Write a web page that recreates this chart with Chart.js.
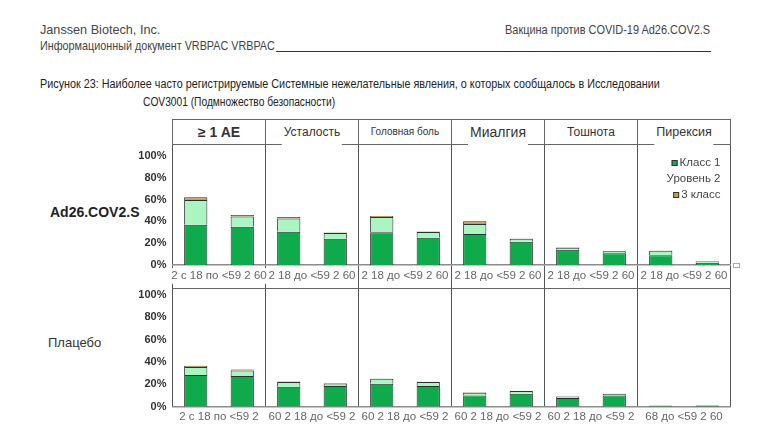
<!DOCTYPE html>
<html>
<head>
<meta charset="utf-8">
<title>Рисунок 23</title>
<script src="https://cdn.jsdelivr.net/npm/chart.js@4.4.1/dist/chart.umd.min.js"></script>
<style>
    body { margin: 0; width: 768px; height: 437px; background: #fff; position: relative; overflow: hidden;
           font-family: "Liberation Sans", Arial, sans-serif; color: #333; }
    .abs { position: absolute; white-space: nowrap; transform-origin: 0 0; }
    .abs.r { transform-origin: 100% 0; }
    .doc { font-size: 13.5px; color: #444; }
    .cap { font-size: 12.5px; color: #222; }
    #rule { position: absolute; left: 276px; top: 51px; width: 435px; height: 0; border-top: 1.5px solid #333; }
    #head { position: absolute; left: 172px; top: 119px; width: 559px; height: 26px; box-sizing: border-box;
            border: 1px solid #666; display: flex; }
    #head .cell { flex: 1; position: relative; border-left: 1px solid #666; }
    #head .cell:first-child { border-left: none; }
    #head .t { position: absolute; left: 50%; top: 50%; transform: translate(-50%, -52%); background: #fff;
               white-space: nowrap; color: #333; padding: 2px 2px; }
    #head .t.gap { padding-bottom: 9px; transform: translate(-50%, -36%); }
    .row-label { position: absolute; white-space: nowrap; }
    .chart-box { position: absolute; left: 0; width: 768px; }
    #nub { position: absolute; left: 733px; top: 263px; width: 5px; height: 3px; border: 1px solid #aaa; background: #fff; }
</style>
</head>
<body>

<div class="abs doc" data-w="120" style="left:40px; top:22px;">Janssen Biotech, Inc.</div>
<div class="abs doc" data-w="235" style="left:40px; top:38px;">Информационный документ VRBPAC VRBPAC</div>
<div id="rule"></div>
<div class="abs doc r" data-w="205" style="right:58px; top:22px;">Вакцина против COVID-19 Ad26.COV2.S</div>
<div class="abs cap" data-w="620" style="left:40px; top:77px;">Рисунок 23: Наиболее часто регистрируемые Системные нежелательные явления, о которых сообщалось в Исследовании</div>
<div class="abs cap" data-w="192" style="left:143px; top:95px;">COV3001 (Подмножество безопасности)</div>

<div id="head"></div>

<div class="row-label" style="left:50px; top:204px; font-size:14px; font-weight:bold; color:#222;">Ad26.COV2.S</div>
<div class="row-label" style="left:48px; top:335px; font-size:13px; color:#333;">Плацебо</div>

<div class="chart-box" style="top:140px; height:150px;"><canvas id="vaccine-chart"></canvas></div>
<div class="chart-box" style="top:285px; height:152px;"><canvas id="placebo-chart"></canvas></div>
<div id="nub"></div>

<script>
// Reported systemic AEs, % of participants, by grade and age group

const panels = ['≥ 1 AE', 'Усталость', 'Головная боль', 'Миалгия', 'Тошнота', 'Пирексия'];
const gradeLabels = ['Класс 1', 'Уровень 2', '3 класс'];
const ageStacks = ['18-59', '60+'];
const yTicks = [0, 20, 40, 60, 80, 100];

const vaccineTicks = ['2 с 18 по <59 2 60', '2 18 до <59 2 60', '2 18 до <59 2 60',
                      '2 18 до <59 2 60', '2 18 до <59 2 60', '2 18 до <59 2 60'];
const placeboTicks = ['2 с 18 по <59 2', '60 2 18 до <59 2', '60 2 18 до <59 2',
                      '60 2 18 до <59 2', '60 2 18 до <59 2', '68 до <59 2 60'];

// Ad26.COV2.S
const vacYoungG1 = [37, 30.5, 30, 28.5, 14, 9];
const vacYoungG2 = [22.5, 12.2, 14, 9, 1.8, 4];
const vacYoungG3 = [2.5, 1.3, 1, 2.5, 0.4, 0.4];
const vacOldG1 = [35, 24, 25, 21.3, 10.7, 2];
const vacOldG2 = [9.5, 5.3, 5.2, 2.7, 1.8, 1.3];
const vacOldG3 = [1.3, 0.6, 0.4, 0.3, 0.3, 0.3];

// Placebo
const plaYoungG1 = [28.3, 17.9, 20.5, 10, 7.7, 0.8];
const plaYoungG2 = [7.1, 4.1, 4.5, 2.5, 1.5, 0.2];
const plaYoungG3 = [1.2, 0.4, 0.2, 0.3, 0.2, 0.2];
const plaOldG1 = [27.4, 18.5, 18.5, 11.6, 10.1, 1.0];
const plaOldG2 = [5, 2.3, 3.5, 2.4, 1.2, 0.2];
const plaOldG3 = [0.9, 0.3, 0.3, 0.3, 0.2, 0.2];

const gradeColors = ['#0eaa4c', '#aaf5c1', '#cf9c45'];
const legendBox = [true, false, true];

// header cells
const titleStyles = [
    'font-size:14px; font-weight:bold;',
    'font-size:12px;',
    'font-size:10px;',
    'font-size:14px;',
    'font-size:12px;',
    'font-size:12.5px;'
];
const titleGaps = [false, true, false, true, false, true];

const head = document.getElementById('head');
panels.forEach((p, i) => {
    const cell = document.createElement('div');
    cell.className = 'cell';
    cell.innerHTML = `<span class="t${titleGaps[i] ? ' gap' : ''}" style="${titleStyles[i]}">${p}</span>`;
    head.appendChild(cell);
});

// squeeze the document lines to the narrow widths of the scan
document.querySelectorAll('[data-w]').forEach(el => {
    const k = Number(el.dataset.w) / el.offsetWidth;
    el.style.transform = `scaleX(${k})`;
});

function buildDatasets(young, old) {
    const sets = [];
    [young, old].forEach((grades, a) => {
        grades.forEach((values, g) => {
            sets.push({
                label: gradeLabels[g],
                data: values,
                stack: ageStacks[a],
                backgroundColor: gradeColors[g],
                borderColor: '#2e2e2e',
                borderWidth: 1,
                borderSkipped: 'start',
                categoryPercentage: 1.0,
                barPercentage: 0.5
            });
        });
    });
    return sets;
}

const topLinePlugin = {
    id: 'topLine',
    afterDraw(chart, args, opts) {
        if (!opts.show) return;
        const { ctx, chartArea } = chart;
        ctx.save();
        ctx.strokeStyle = '#666';
        ctx.lineWidth = 1;
        ctx.beginPath();
        ctx.moveTo(chartArea.left, chartArea.top + 0.5);
        ctx.lineTo(chartArea.right, chartArea.top + 0.5);
        ctx.stroke();
        ctx.restore();
    }
};

const gradeLegendPlugin = {
    id: 'gradeLegend',
    afterDraw(chart, args, opts) {
        if (!opts.show) return;
        const { ctx, chartArea } = chart;
        const right = chartArea.right - 10;
        ctx.save();
        ctx.font = '11.5px "Liberation Sans", Arial, sans-serif';
        ctx.textAlign = 'right';
        ctx.textBaseline = 'middle';
        gradeLabels.forEach((label, i) => {
            const y = chartArea.top + 18 + i * 16;
            ctx.fillStyle = '#444';
            ctx.fillText(label, right, y);
            if (legendBox[i]) {
                const w = ctx.measureText(label).width;
                const bx = right - w - 8;
                ctx.fillStyle = gradeColors[i];
                ctx.fillRect(bx, y - 3, 6, 6);
                ctx.strokeStyle = '#333';
                ctx.lineWidth = 1;
                ctx.strokeRect(bx + 0.5, y - 2.5, 5, 5);
            }
        });
        ctx.restore();
    }
};

function makeRow(canvasId, datasets, tickLabels, yMax, cfg) {
    const ctx = document.getElementById(canvasId);
    return new Chart(ctx, {
        type: 'bar',
        data: { labels: tickLabels, datasets: datasets },
        plugins: [topLinePlugin, gradeLegendPlugin],
        options: {
            responsive: true,
            maintainAspectRatio: false,
            animation: false,
            layout: { padding: { top: cfg.padTop, right: 37.5, left: 0, bottom: 0 } },
            plugins: {
                legend: { display: false },
                tooltip: { enabled: false },
                topLine: { show: cfg.topLine },
                gradeLegend: { show: cfg.legend }
            },
            scales: {
                x: {
                    stacked: true,
                    offset: true,
                    grid: { offset: true, color: '#555', lineWidth: 1,
                            drawTicks: cfg.tickLength > 0, tickLength: cfg.tickLength },
                    border: { display: true, color: '#8c8c8c', width: 1.5 },
                    ticks: { color: '#666', font: { size: 11.5, family: '"Liberation Sans", Arial, sans-serif' },
                             padding: cfg.labelPad, maxRotation: 0, autoSkip: false,
                             showLabelBackdrop: true, backdropColor: '#fff',
                             backdropPadding: { top: 1, bottom: 1, left: 0, right: 0 } },
                    afterFit: s => { s.height = cfg.axisHeight; s.paddingLeft = 0; s.paddingRight = 0; }
                },
                y: {
                    stacked: true,
                    min: 0,
                    max: yMax,
                    afterBuildTicks: s => { s.ticks = yTicks.map(v => ({ value: v })); },
                    grid: { display: false, drawTicks: false },
                    border: { display: false },
                    ticks: { color: '#333', padding: 6, callback: v => v + '%',
                             font: { size: 11, weight: 'bold', family: '"Liberation Sans", Arial, sans-serif' } },
                    afterFit: s => { s.width = 172.5; s.paddingTop = 0; s.paddingBottom = 0; }
                }
            }
        }
    });
}

makeRow('vaccine-chart',
    buildDatasets([vacYoungG1, vacYoungG2, vacYoungG3], [vacOldG1, vacOldG2, vacOldG3]),
    vaccineTicks, 110,
    { padTop: 5, tickLength: 23, labelPad: -19, axisHeight: 25, topLine: false, legend: true });

makeRow('placebo-chart',
    buildDatasets([plaYoungG1, plaYoungG2, plaYoungG3], [plaOldG1, plaOldG2, plaOldG3]),
    placeboTicks, 106,
    { padTop: 3, tickLength: 0, labelPad: 3, axisHeight: 30.3, topLine: true, legend: false });
</script>
</body>
</html>
